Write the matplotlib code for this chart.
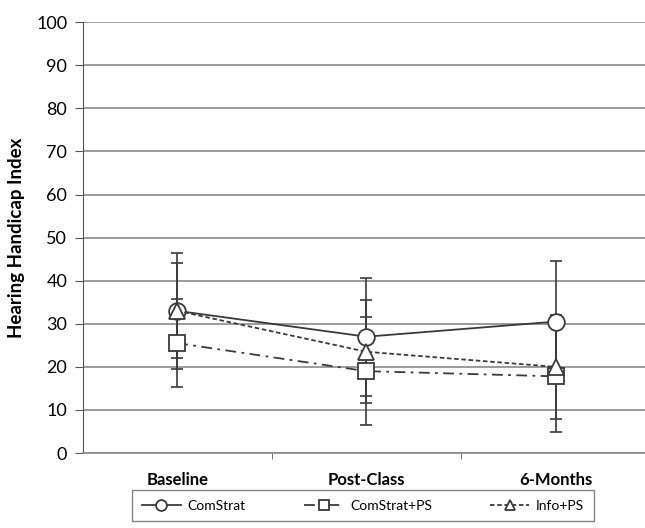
import matplotlib
matplotlib.use("Agg")
import matplotlib.pyplot as plt
import numpy as np

plt.rcParams['font.family'] = ['Lato', 'DejaVu Sans']

categories = ['Baseline', 'Post-Class', '6-Months']
comstrat = [33.0, 27.0, 30.5]
comstrat_sd = [13.5, 13.7, 14.0]
comstrat_ps = [25.5, 19.0, 17.8]
comstrat_ps_sd = [10.2, 12.5, 13.0]
info_ps = [33.0, 23.5, 20.0]
info_ps_sd = [11.0, 12.0, 12.0]

x = np.arange(len(categories))
ink = '#3a3a3a'

fig = plt.figure(figsize=(6.45, 5.28), dpi=100)
ax = fig.add_axes([0.128, 0.142, 0.88, 0.816])

series = [
    ('ComStrat', comstrat, comstrat_sd, 'o', '-'),
    ('ComStrat+PS', comstrat_ps, comstrat_ps_sd, 's', (0, (6, 3, 1.5, 3))),
    ('Info+PS', info_ps, info_ps_sd, '^', (0, (2.5, 1.5))),
]
handles = []
for name, vals, sd, mk, ls in series:
    ax.errorbar(x, vals, yerr=sd, fmt='none', ecolor=ink, elinewidth=1.2,
                capsize=4, capthick=1.2, zorder=2)
    h, = ax.plot(x, vals, color=ink, lw=1.3, ls=ls, marker=mk, markersize=12,
                 markerfacecolor='white', markeredgecolor=ink, markeredgewidth=1.3,
                 label=name, zorder=3)
    handles.append(h)

ax.set_xlim(-0.5, 2.5)
ax.set_ylim(0, 100)
ax.set_yticks(np.arange(0, 101, 10))
ax.set_xticks(x)
ax.set_xticklabels(categories, fontsize=12, fontweight='bold')
ax.set_xticks([0.5, 1.5], minor=True)
ax.tick_params(axis='x', which='major', length=0, pad=14)
ax.tick_params(axis='x', which='minor', length=4, direction='out', color='#555555')
ax.tick_params(axis='y', labelsize=13, length=6, direction='out', color='#555555', pad=5)
ax.yaxis.grid(True, color='#8a8a8a', lw=1.2)
ax.set_axisbelow(True)
for s in ['top', 'right']:
    ax.spines[s].set_visible(False)
ax.spines['left'].set_color('#555555')
ax.spines['bottom'].set_color('#8a8a8a')
ax.spines['bottom'].set_linewidth(1.2)
ax.set_ylabel('Hearing Handicap Index', fontsize=13.5, fontweight='bold', labelpad=8)

leg = fig.legend(handles=handles, loc='upper center', bbox_to_anchor=(0.563, 0.072),
                 ncol=3, fontsize=10, frameon=True, fancybox=False, handlelength=2.8,
                 markerscale=0.65, columnspacing=4.2, borderpad=0.7, handletextpad=0.5,
                 borderaxespad=0.0)
leg.get_frame().set_edgecolor('#666666')
leg.get_frame().set_linewidth(1.0)

fig.savefig('out.png', dpi=100)
